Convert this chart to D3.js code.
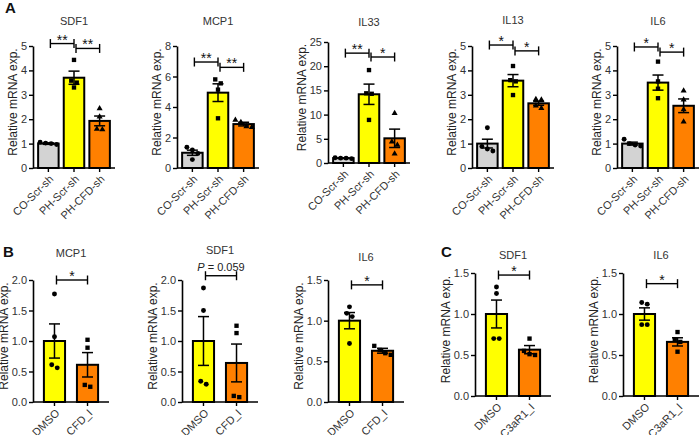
<!DOCTYPE html>
<html>
<head>
<meta charset="utf-8">
<script src="https://cdn.jsdelivr.net/npm/d3@7"></script>
<style>
body { margin: 0; background: #fff; }
text { font-family: Arial, "Liberation Sans", sans-serif; }
</style>
</head>
<body>
<svg width="700" height="435"></svg>
<script>
// group names
var groupsA = ['CO-Scr-sh', 'PH-Scr-sh', 'PH-CFD-sh'];
var groupsB = ['DMSO', 'CFD_I'];
var groupsC = ['DMSO', 'C3aR1_I'];

// panel A
var sdf1A_mean = [1.0, 3.7, 1.93];
var sdf1A_sem = [0.03, 0.27, 0.2];
var sdf1A_pts = [[0.96, 1.0, 1.02, 1.06], [4.43, 3.58, 3.5, 3.3], [2.44, 2.1, 1.6, 1.58]];
var sdf1A_ticks = [0, 1, 2, 3, 4, 5];
var sdf1A_sig = ['**', '**'];
var sdf1A_sigY = [5.1, 4.9];

var mcp1A_mean = [1.0, 4.94, 2.88];
var mcp1A_sem = [0.17, 0.58, 0.12];
var mcp1A_pts = [[1.36, 1.18, 0.95, 0.55], [5.81, 5.55, 5.14, 3.26], [3.15, 3.0, 2.72, 2.68]];
var mcp1A_ticks = [0, 2, 4, 6, 8];
var mcp1A_sig = ['**', '**'];
var mcp1A_sigY = [6.95, 6.6];

var il33A_mean = [1.0, 14.2, 5.1];
var il33A_sem = [0.06, 2.1, 1.9];
var il33A_pts = [[0.9, 1.0, 1.1, 1.0], [19.2, 14.4, 14.3, 8.9], [10.3, 4.4, 3.7, 1.9]];
var il33A_ticks = [0, 5, 10, 15, 20, 25];
var il33A_sig = ['**', '*'];
var il33A_sigY = [22.7, 21.9];

var il13A_mean = [1.0, 3.58, 2.65];
var il13A_sem = [0.18, 0.25, 0.08];
var il13A_pts = [[1.65, 0.88, 0.78, 0.7], [4.18, 3.6, 3.55, 2.99], [2.82, 2.8, 2.55, 2.45]];
var il13A_ticks = [0, 1, 2, 3, 4, 5];
var il13A_sig = ['*', '*'];
var il13A_sigY = [5.04, 4.8];

var il6A_mean = [1.0, 3.5, 2.55];
var il6A_sem = [0.06, 0.31, 0.28];
var il6A_pts = [[1.18, 1.0, 0.94, 0.9], [4.36, 3.55, 3.25, 2.86], [3.17, 2.8, 2.4, 1.9]];
var il6A_ticks = [0, 1, 2, 3, 4, 5];
var il6A_sig = ['*', '*'];
var il6A_sigY = [4.96, 4.75];

// panel B
var mcp1B_mean = [1.0, 0.61];
var mcp1B_sem = [0.28, 0.2];
var mcp1B_pts = [[1.77, 1.07, 0.61, 0.56], [1.02, 0.89, 0.28, 0.25]];
var mcp1B_ticks = [0, 0.5, 1.0, 1.5, 2.0];
var mcp1B_sig = ['*'];
var mcp1B_sigY = [2.0];

var sdf1B_mean = [1.0, 0.64];
var sdf1B_sem = [0.4, 0.31];
var sdf1B_pts = [[1.87, 1.5, 0.34, 0.29], [1.25, 1.13, 0.1, 0.08]];
var sdf1B_ticks = [0, 0.5, 1.0, 1.5, 2.0];
var sdf1B_sig = ['P = 0.059'];
var sdf1B_sigY = [2.07];

var il6B_mean = [1.0, 0.63];
var il6B_sem = [0.1, 0.03];
var il6B_pts = [[1.17, 1.09, 1.05, 0.72], [0.69, 0.64, 0.6, 0.58]];
var il6B_ticks = [0, 0.5, 1.0, 1.5];
var il6B_sig = ['*'];
var il6B_sigY = [1.44];

// panel C
var sdf1C_mean = [1.0, 0.565];
var sdf1C_sem = [0.17, 0.05];
var sdf1C_pts = [[1.33, 1.25, 0.7, 0.7], [0.7, 0.55, 0.51, 0.5]];
var sdf1C_ticks = [0, 0.5, 1.0, 1.5];
var sdf1C_sig = ['*'];
var sdf1C_sigY = [1.475];

var il6C_mean = [1.0, 0.66];
var il6C_sem = [0.075, 0.05];
var il6C_pts = [[1.14, 1.12, 0.87, 0.87], [0.78, 0.69, 0.66, 0.54]];
var il6C_ticks = [0, 0.5, 1.0, 1.5];
var il6C_sig = ['*'];
var il6C_sigY = [1.37];

var colors3 = ['#d3d3d3', '#ffff00', '#ff8000'];
var colors2 = ['#ffff00', '#ff8000'];
var shapes3 = [d3.symbolCircle, d3.symbolSquare, d3.symbolTriangle];
var shapes2 = [d3.symbolCircle, d3.symbolSquare];

var svg = d3.select('svg');

var charts = [
  {title: 'SDF1', groups: groupsA, mean: sdf1A_mean, sem: sdf1A_sem, pts: sdf1A_pts, ticks: sdf1A_ticks, sig: sdf1A_sig, sigY: sdf1A_sigY,
   x0: 33, w: 82, y0: 168, y1: 46, ty: 25, fmt: 'd'},
  {title: 'MCP1', groups: groupsA, mean: mcp1A_mean, sem: mcp1A_sem, pts: mcp1A_pts, ticks: mcp1A_ticks, sig: mcp1A_sig, sigY: mcp1A_sigY,
   x0: 177, w: 82, y0: 168, y1: 46, ty: 25, fmt: 'd'},
  {title: 'IL33', groups: groupsA, mean: il33A_mean, sem: il33A_sem, pts: il33A_pts, ticks: il33A_ticks, sig: il33A_sig, sigY: il33A_sigY,
   x0: 328, w: 82, y0: 163, y1: 42, ty: 26, fmt: 'd'},
  {title: 'IL13', groups: groupsA, mean: il13A_mean, sem: il13A_sem, pts: il13A_pts, ticks: il13A_ticks, sig: il13A_sig, sigY: il13A_sigY,
   x0: 472, w: 82, y0: 168, y1: 46, ty: 24, fmt: 'd'},
  {title: 'IL6', groups: groupsA, mean: il6A_mean, sem: il6A_sem, pts: il6A_pts, ticks: il6A_ticks, sig: il6A_sig, sigY: il6A_sigY,
   x0: 617, w: 82, y0: 168, y1: 46, ty: 25, fmt: 'd'},
  {title: 'MCP1', groups: groupsB, mean: mcp1B_mean, sem: mcp1B_sem, pts: mcp1B_pts, ticks: mcp1B_ticks, sig: mcp1B_sig, sigY: mcp1B_sigY,
   x0: 33, w: 76, y0: 402, y1: 280, ty: 257, fmt: '.1f'},
  {title: 'SDF1', groups: groupsB, mean: sdf1B_mean, sem: sdf1B_sem, pts: sdf1B_pts, ticks: sdf1B_ticks, sig: sdf1B_sig, sigY: sdf1B_sigY,
   x0: 182, w: 76, y0: 402, y1: 280, ty: 254, fmt: '.1f'},
  {title: 'IL6', groups: groupsB, mean: il6B_mean, sem: il6B_sem, pts: il6B_pts, ticks: il6B_ticks, sig: il6B_sig, sigY: il6B_sigY,
   x0: 328, w: 76, y0: 402, y1: 280, ty: 261, fmt: '.1f'},
  {title: 'SDF1', groups: groupsC, mean: sdf1C_mean, sem: sdf1C_sem, pts: sdf1C_pts, ticks: sdf1C_ticks, sig: sdf1C_sig, sigY: sdf1C_sigY,
   x0: 475, w: 76, y0: 396, y1: 273, ty: 259, fmt: '.1f'},
  {title: 'IL6', groups: groupsC, mean: il6C_mean, sem: il6C_sem, pts: il6C_pts, ticks: il6C_ticks, sig: il6C_sig, sigY: il6C_sigY,
   x0: 623, w: 76, y0: 396, y1: 273, ty: 259, fmt: '.1f'}
];

charts.forEach(drawChart);

// panel letters
svg.append('text').attr('x', 5).attr('y', 13).text('A')
  .attr('font-size', 15).attr('font-weight', 'bold').attr('fill', '#111');
svg.append('text').attr('x', 3).attr('y', 257).text('B')
  .attr('font-size', 15).attr('font-weight', 'bold').attr('fill', '#111');
svg.append('text').attr('x', 441).attr('y', 257).text('C')
  .attr('font-size', 15).attr('font-weight', 'bold').attr('fill', '#111');

function drawChart(c) {
  var n = c.groups.length;
  var three = n === 3;
  var x = d3.scaleBand()
            .domain(c.groups)
            .range([c.x0, c.x0 + c.w])
            .paddingInner(three ? 0.2 : 0.36)
            .paddingOuter(three ? 0.2 : 0.33);
  var top = c.ticks[c.ticks.length - 1];
  var y = d3.scaleLinear().domain([0, top]).range([c.y0, c.y1]);
  var colors = three ? colors3 : colors2;
  var shapes = three ? shapes3 : shapes2;
  var g = svg.append('g');

  // bars
  g.selectAll('.bar')
    .data(c.mean)
    .enter()
    .append('rect')
      .attr('x', (d, i) => x(c.groups[i]))
      .attr('y', d => y(d))
      .attr('width', x.bandwidth())
      .attr('height', d => c.y0 - y(d))
      .attr('fill', (d, i) => colors[i])
      .attr('stroke', '#000')
      .attr('stroke-width', 2);

  // error bars (mean +/- SEM)
  c.mean.forEach(function(m, i) {
    var cx = x(c.groups[i]) + x.bandwidth() / 2;
    var hi = y(m + c.sem[i]), lo = y(m - c.sem[i]);
    var eb = g.append('g').attr('stroke', '#000').attr('stroke-width', 1.5);
    eb.append('line').attr('x1', cx).attr('x2', cx).attr('y1', hi).attr('y2', lo);
    eb.append('line').attr('x1', cx - 5.5).attr('x2', cx + 5.5).attr('y1', hi).attr('y2', hi);
    eb.append('line').attr('x1', cx - 5.5).attr('x2', cx + 5.5).attr('y1', lo).attr('y2', lo);
  });

  // points, spread sideways when they overlap
  c.pts.forEach(function(vals, i) {
    var cx = x(c.groups[i]) + x.bandwidth() / 2;
    var pts = vals.map(v => ({v: v, py: y(v)})).sort((a, b) => a.py - b.py);
    var clusters = [];
    pts.forEach(function(p) {
      var last = clusters[clusters.length - 1];
      if (last && p.py - last[last.length - 1].py < 4.5) {
        last.push(p);
      } else {
        clusters.push([p]);
      }
    });
    clusters.forEach(function(cl) {
      cl.forEach(function(p, j) {
        p.px = cx + (j - (cl.length - 1) / 2) * 5.5;
      });
    });
    g.selectAll('.pt' + i)
      .data(pts)
      .enter()
      .append('path')
        .attr('d', d3.symbol().type(shapes[i]).size(shapes[i] === d3.symbolTriangle ? 16 : 19))
        .attr('transform', d => 'translate(' + d.px + ',' + d.py + ')')
        .attr('fill', '#000');
  });

  // y axis
  var yAxis = g.append('g')
      .attr('transform', 'translate(' + c.x0 + ',0)')
      .call(d3.axisLeft(y).tickValues(c.ticks).tickSize(4).tickSizeOuter(0).tickPadding(2)
              .tickFormat(d3.format(c.fmt)));
  yAxis.select('.domain').attr('stroke-width', 1.6);
  yAxis.selectAll('.tick line').attr('stroke-width', 1.4);
  yAxis.selectAll('text').attr('font-size', 11).attr('fill', '#333').attr('font-family', 'Arial, "Liberation Sans", sans-serif');
  var aw = yAxis.node().getBBox().width;

  // x axis
  var xAxis = g.append('g')
      .attr('transform', 'translate(0,' + c.y0 + ')')
      .call(d3.axisBottom(x).tickSize(4).tickSizeOuter(0).tickFormat(''));
  xAxis.select('.domain').attr('d', 'M' + c.x0 + ',0H' + (c.x0 + c.w)).attr('stroke-width', 1.6);
  xAxis.selectAll('.tick line').attr('stroke-width', 1.4);

  c.groups.forEach(function(name) {
    var tx = x(name) + x.bandwidth() / 2 + 3, ty = c.y0 + 9;
    g.append('text')
      .attr('x', tx).attr('y', ty).attr('dy', '0.35em')
      .attr('text-anchor', 'end')
      .attr('transform', 'rotate(-45,' + tx + ',' + ty + ')')
      .attr('font-size', 11).attr('fill', '#333')
      .text(name);
  });

  // y label
  var ly = (c.y0 + c.y1) / 2 - 5, lx = c.x0 - aw - 3;
  g.append('text')
    .attr('transform', 'translate(' + lx + ',' + ly + ') rotate(-90)')
    .attr('text-anchor', 'middle')
    .attr('font-size', 12).attr('fill', '#222')
    .text('Relative mRNA exp.');

  // title
  var mid = (x(c.groups[0]) + x(c.groups[n - 1]) + x.bandwidth()) / 2;
  g.append('text')
    .attr('x', mid).attr('y', c.ty)
    .attr('text-anchor', 'middle')
    .attr('font-size', 11).attr('fill', '#333')
    .text(c.title);

  // significance brackets
  c.sig.forEach(function(lab, i) {
    var a = x(c.groups[i]) + x.bandwidth() / 2 + 2;
    var b = x(c.groups[i + 1]) + x.bandwidth() / 2;
    var by = y(c.sigY[i]);
    var br = g.append('g').attr('stroke', '#000').attr('stroke-width', 1.4);
    br.append('line').attr('x1', a).attr('x2', b).attr('y1', by).attr('y2', by);
    br.append('line').attr('x1', a).attr('x2', a).attr('y1', by - 4.5).attr('y2', by + 4.5);
    br.append('line').attr('x1', b).attr('x2', b).attr('y1', by - 4.5).attr('y2', by + 4.5);
    if (lab.indexOf('P') === 0) {
      var t = g.append('text')
        .attr('x', (a + b) / 2).attr('y', by - 5)
        .attr('text-anchor', 'middle')
        .attr('font-size', 11).attr('fill', '#222');
      t.append('tspan').attr('font-style', 'italic').text('P');
      t.append('tspan').text(lab.slice(1));
    } else {
      g.append('text')
        .attr('x', (a + b) / 2).attr('y', by + 1)
        .attr('text-anchor', 'middle')
        .attr('font-size', 14).attr('fill', '#111')
        .text(lab);
    }
  });
}
</script>
</body>
</html>
